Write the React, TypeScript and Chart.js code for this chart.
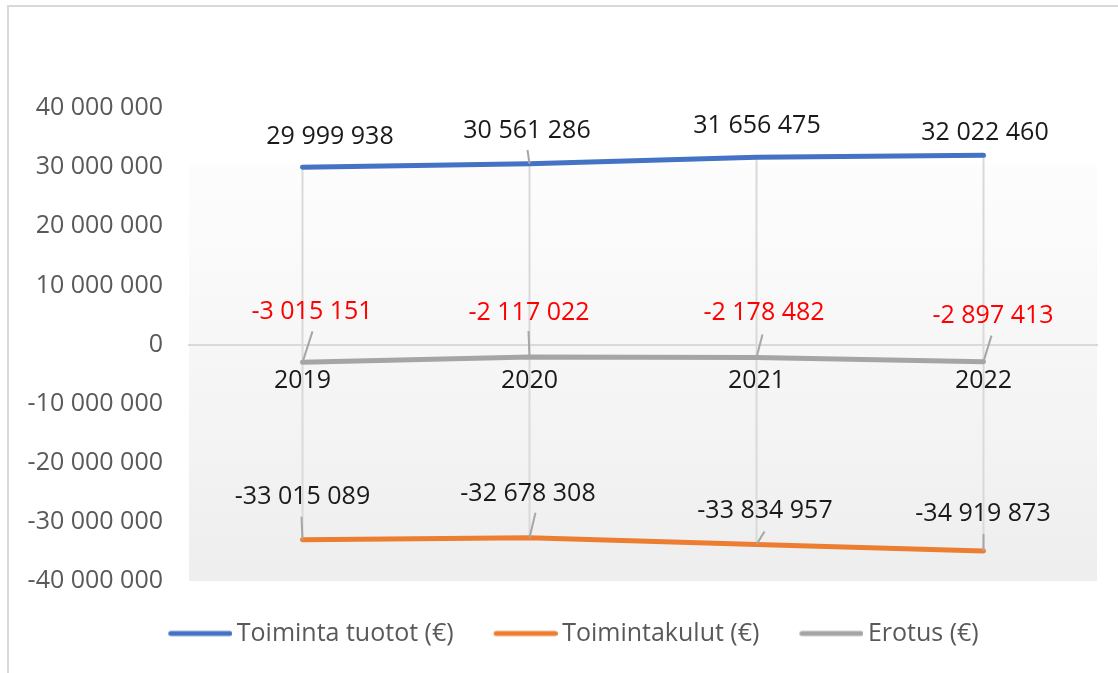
import React, { useEffect, useRef } from "react";
import { Chart, registerables } from "chart.js";

Chart.register(...registerables);

// ---- data ----
const categories = ["2019", "2020", "2021", "2022"];
const seriesNames = ["Toiminta tuotot (€)", "Toimintakulut (€)", "Erotus (€)"];
const tuotot = [29999938, 30561286, 31656475, 32022460];
const kulut = [-33015089, -32678308, -33834957, -34919873];
const erotus = [-3015151, -2117022, -2178482, -2897413];
const yMin = -40000000;
const yMax = 40000000;
const yStep = 10000000;

// ---- styles ----
const FONT = '"Open Sans", sans-serif';
const FS = 25;
const COLORS = ["#4472C4", "#ED7D31", "#A5A5A5"];
const LABEL_COLORS = ["#1a1a1a", "#1a1a1a", "#FF0000"];
// label centre offsets relative to each point (px)
const LABEL_OFFSETS: number[][][] = [
  [[27.5, -32], [-2.5, -35], [0.5, -33], [1.5, -24]],
  [[0, -45], [-1.5, -46], [8.5, -35], [-0.5, -38.5]],
  [[9.5, -52], [-0.5, -46], [7.5, -46], [9.5, -48]],
];
// leader line start offsets relative to each point (px), null = none
const LEADERS: (number[] | null)[][] = [
  [null, [-2, -14], null, null],
  [[-1, -23], [6, -25], [8, -13], [0, -17]],
  [[10, -31], [-1, -26], [6, -23], [8, -26]],
];

function fmt(v: number): string {
  const s = Math.abs(Math.round(v))
    .toString()
    .replace(/\B(?=(\d{3})+(?!\d))/g, " ");
  return (v < 0 ? "-" : "") + s;
}

function makeLegendLine(color: string): HTMLCanvasElement {
  const c = document.createElement("canvas");
  c.width = 72;
  c.height = 10;
  const g = c.getContext("2d")!;
  g.strokeStyle = color;
  g.lineWidth = 5;
  g.lineCap = "round";
  g.beginPath();
  g.moveTo(10.5, 5);
  g.lineTo(69.5, 5);
  g.stroke();
  return c;
}

const plotBackground = {
  id: "plotBackground",
  beforeDraw(chart: any) {
    const { ctx, chartArea: a } = chart;
    const y0 = a.top + (a.bottom - a.top) * 0.116;
    const g = ctx.createLinearGradient(0, y0, 0, a.bottom);
    g.addColorStop(0, "#fdfdfd");
    g.addColorStop(1, "#eeeeee");
    ctx.save();
    ctx.fillStyle = g;
    ctx.fillRect(a.left, y0, a.right - a.left, a.bottom - y0);
    ctx.restore();
  },
};

const legendShift = {
  id: "legendShift",
  afterLayout(chart: any) {
    if (chart.legend) chart.legend.left += 40;
  },
};

const highLowLines = {
  id: "highLowLines",
  beforeDatasetsDraw(chart: any) {
    const ctx = chart.ctx;
    const metas = chart.data.datasets.map((_: any, i: number) => chart.getDatasetMeta(i));
    ctx.save();
    ctx.strokeStyle = "#d9d9d9";
    ctx.lineWidth = 2;
    for (let j = 0; j < categories.length; j++) {
      const ys = metas.map((m: any) => m.data[j].y);
      const x = metas[0].data[j].x;
      ctx.beginPath();
      ctx.moveTo(x, Math.min(...ys));
      ctx.lineTo(x, Math.max(...ys));
      ctx.stroke();
    }
    ctx.restore();
  },
};

const valueLabels = {
  id: "valueLabels",
  afterDatasetsDraw(chart: any) {
    const ctx = chart.ctx;
    ctx.save();
    ctx.font = `${FS}px ${FONT}`;
    ctx.textAlign = "center";
    ctx.textBaseline = "alphabetic";
    chart.data.datasets.forEach((ds: any, i: number) => {
      const meta = chart.getDatasetMeta(i);
      meta.data.forEach((pt: any, j: number) => {
        const lead = LEADERS[i][j];
        if (lead) {
          ctx.strokeStyle = "#a6a6a6";
          ctx.lineWidth = 2;
          ctx.beginPath();
          ctx.moveTo(pt.x + lead[0], pt.y + lead[1]);
          ctx.lineTo(pt.x, pt.y);
          ctx.stroke();
        }
        const [dx, dy] = LABEL_OFFSETS[i][j];
        ctx.fillStyle = LABEL_COLORS[i];
        ctx.fillText(fmt(ds.data[j]), pt.x + dx, pt.y + dy + FS * 0.357);
      });
    });
    ctx.restore();
  },
};

export default function App() {
  const ref = useRef<HTMLCanvasElement>(null);

  useEffect(() => {
    if (!ref.current) return;
    const legendImgs = COLORS.map(makeLegendLine);
    const seriesData = [tuotot, kulut, erotus];
    const chart = new Chart(ref.current, {
      type: "line",
      data: {
        labels: categories,
        datasets: seriesNames.map((name, i) => ({
          label: name,
          data: seriesData[i],
          borderColor: COLORS[i],
          backgroundColor: COLORS[i],
          borderWidth: 5,
          borderCapStyle: "round",
          borderJoinStyle: "round",
          pointRadius: 0,
          pointHoverRadius: 0,
          fill: false,
          tension: 0,
        })),
      },
      options: {
        animation: false,
        responsive: false,
        devicePixelRatio: 1,
        layout: { padding: { left: 10, right: 21, top: 108, bottom: 17 } },
        scales: {
          x: {
            type: "category",
            offset: true,
            position: { y: 0 } as any,
            grid: { display: false, drawTicks: false },
            border: { display: true, color: "#d9d9d9", width: 2 },
            ticks: {
              color: "#1a1a1a",
              font: { family: FONT, size: FS },
              padding: 21,
              maxRotation: 0,
            },
            afterFit: (s: any) => {
              s.height = 0;
            },
          },
          y: {
            min: yMin,
            max: yMax,
            grid: { display: false, drawTicks: false },
            border: { display: false },
            ticks: {
              stepSize: yStep,
              color: "#595959",
              font: { family: FONT, size: FS },
              padding: 26,
              callback: (v: any) => fmt(Number(v)),
            },
            afterFit: (s: any) => {
              s.width = 179;
            },
          },
        },
        plugins: {
          legend: {
            position: "bottom",
            labels: {
              usePointStyle: true,
              pointStyleWidth: 56,
              padding: 40,
              color: "#595959",
              font: { family: FONT, size: FS },
              generateLabels: (c: any) => {
                const items = (Chart.defaults.plugins.legend.labels as any).generateLabels(c);
                return items.map((it: any, i: number) => ({ ...it, pointStyle: legendImgs[i] }));
              },
            },
          },
          tooltip: { enabled: false },
        },
      },
      plugins: [plotBackground, legendShift, highLowLines, valueLabels],
    } as any);
    return () => chart.destroy();
  }, []);

  return (
    <div
      style={{
        position: "fixed",
        left: 0,
        top: 0,
        width: 1118,
        height: 673,
        background: "#fff",
        overflow: "hidden",
      }}
    >
      <div
        style={{
          position: "absolute",
          left: 7,
          top: 5,
          width: 1200,
          height: 800,
          border: "2px solid #d9d9d9",
          boxSizing: "border-box",
        }}
      />
      <canvas
        ref={ref}
        width={1118}
        height={673}
        style={{ position: "absolute", left: 0, top: 0, width: 1118, height: 673 }}
      />
    </div>
  );
}
